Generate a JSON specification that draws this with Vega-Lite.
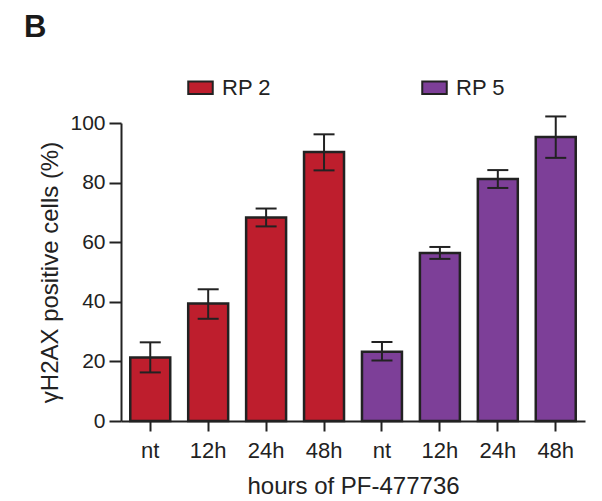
{
  "$schema": "https://vega.github.io/schema/vega-lite/v6.json",
  "width": 464,
  "height": 298,
  "autosize": {"type": "none"},
  "padding": {"left": 121, "top": 123, "right": 17, "bottom": 80},
  "background": "white",
  "title": {"text": "B", "anchor": "start", "frame": "group", "fontSize": 31, "font": "Liberation Sans", "fontWeight": "bold", "color": "#1a1a1a", "dx": -97, "dy": 34, "baseline": "alphabetic", "offset": 40},
  "config": {"view": {"stroke": null}, "font": "Liberation Sans"},
  "data": {"values": [
    {"pos": "RP 2 nt", "line": "RP 2", "val": 21.3, "lo": 16.3, "hi": 26.4},
    {"pos": "RP 2 12h", "line": "RP 2", "val": 39.4, "lo": 34.3, "hi": 44.2},
    {"pos": "RP 2 24h", "line": "RP 2", "val": 68.3, "lo": 65.3, "hi": 71.3},
    {"pos": "RP 2 48h", "line": "RP 2", "val": 90.3, "lo": 84.1, "hi": 96.2},
    {"pos": "RP 5 nt", "line": "RP 5", "val": 23.2, "lo": 20.3, "hi": 26.5},
    {"pos": "RP 5 12h", "line": "RP 5", "val": 56.4, "lo": 54.4, "hi": 58.4},
    {"pos": "RP 5 24h", "line": "RP 5", "val": 81.2, "lo": 78.2, "hi": 84.2},
    {"pos": "RP 5 48h", "line": "RP 5", "val": 95.3, "lo": 88.3, "hi": 102.2}
  ]},
  "encoding": {
    "x": {"field": "pos", "type": "nominal", "sort": null,
      "scale": {"paddingInner": 0.31, "paddingOuter": 0.16},
      "axis": {"title": "hours of PF-477736", "labelExpr": "split(datum.value, ' ')[2]", "labelAngle": 0,
        "labelFontSize": 22, "titleFontSize": 24, "titleFontWeight": "normal", "labelColor": "#222", "titleColor": "#222",
        "domainColor": "#222", "domainWidth": 2, "tickColor": "#222", "tickWidth": 2, "tickSize": 10, "labelPadding": 9, "titlePadding": 13}}
  },
  "layer": [
    {"mark": {"type": "bar", "stroke": "#222", "strokeWidth": 2.5},
     "encoding": {
       "y": {"field": "val", "type": "quantitative", "scale": {"domain": [0, 100]},
         "axis": {"title": "γH2AX positive cells (%)", "values": [0, 20, 40, 60, 80, 100], "grid": false,
           "labelFontSize": 21, "titleFontSize": 24, "titleFontWeight": "normal", "labelColor": "#222", "titleColor": "#222",
           "domainColor": "#222", "domainWidth": 2, "tickColor": "#222", "tickWidth": 2, "tickSize": 12, "labelPadding": 4, "titlePadding": 7}},
       "fill": {"field": "line", "type": "nominal",
         "scale": {"domain": ["RP 2", "RP 5"], "range": ["#BE1E2D", "#7D3F98"]},
         "legend": {"title": null, "orient": "none", "legendX": 66, "legendY": -49, "direction": "horizontal",
           "symbolType": "M-1,-0.52L1,-0.52L1,0.52L-1,0.52Z", "symbolSize": 600, "symbolStrokeColor": "#222", "symbolStrokeWidth": 2,
           "labelFontSize": 22, "labelColor": "#222", "labelOffset": 8, "columnPadding": 147}}
     }},
    {"mark": {"type": "rule", "stroke": "#222", "strokeWidth": 2},
     "encoding": {"y": {"field": "lo", "type": "quantitative"}, "y2": {"field": "hi"}}},
    {"mark": {"type": "tick", "color": "#222", "thickness": 2, "size": 21, "orient": "horizontal", "opacity": 1},
     "encoding": {"y": {"field": "lo", "type": "quantitative"}}},
    {"mark": {"type": "tick", "color": "#222", "thickness": 2, "size": 21, "orient": "horizontal", "opacity": 1},
     "encoding": {"y": {"field": "hi", "type": "quantitative"}}}
  ]
}
